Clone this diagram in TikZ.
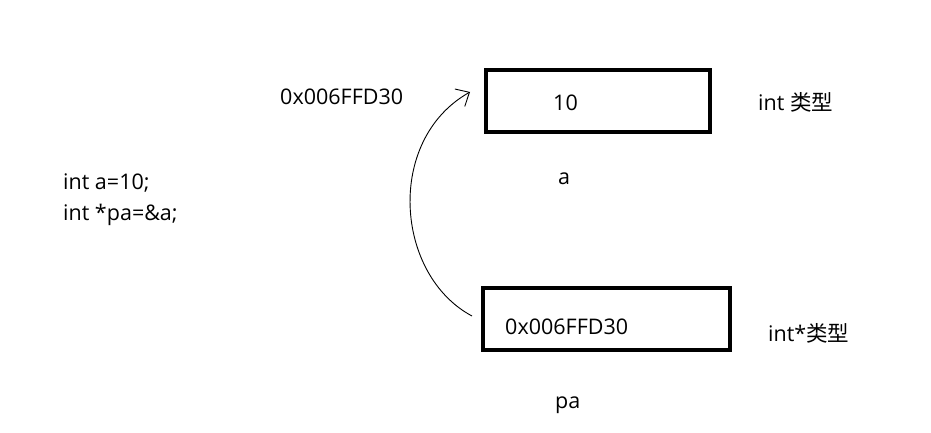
\documentclass[tikz,border=0pt]{standalone}
\usepackage{fontspec}
\setmainfont{Open Sans}
\newfontfamily\cjk{Noto Sans CJK SC}
\usetikzlibrary{arrows.meta}
\begin{document}
\begin{tikzpicture}[x=1pt,y=-1pt,
  lbl/.style={font=\fontsize{21.5}{25}\selectfont, inner sep=0pt, anchor=base west}]
\useasboundingbox (0,0) rectangle (931,433);
\fill[white] (0,0) rectangle (931,433);
% boxes
\draw[line width=4pt] (486,70) coordinate (aTL) rectangle (710,132) coordinate (aBR);
\draw[line width=4pt] (483,288) coordinate (pTL) rectangle (730,350) coordinate (pBR);
% texts
\node[lbl] (addr1) at (280,105) {0x006FFD30};
\node[lbl] (ten) at (553,111) {10};
\node[lbl] (inttype) at (758,111) {int {\cjk 类型}};
\node[lbl] (aname) at (558,184) {a};
\node[lbl] (code1) at (63,189) {int a=10;};
\node[lbl] (code2) at (63,220) {int *pa=\&a;};
\node[lbl] (addr2) at (505,334) {0x006FFD30};
\node[lbl] (ptrtype) at (768,341) {int*{\cjk 类型}};
\node[lbl] (paname) at (555,408) {pa};
% curved arrow
\coordinate (cs) at (472,316);
\coordinate (ce) at (470,92);
\draw[line width=0.9pt, -{Straight Barb[length=11pt,width=20pt,line width=0.9pt]}]
  (cs) .. controls (395,275) and (385,140) .. (ce);
\end{tikzpicture}
\end{document}
